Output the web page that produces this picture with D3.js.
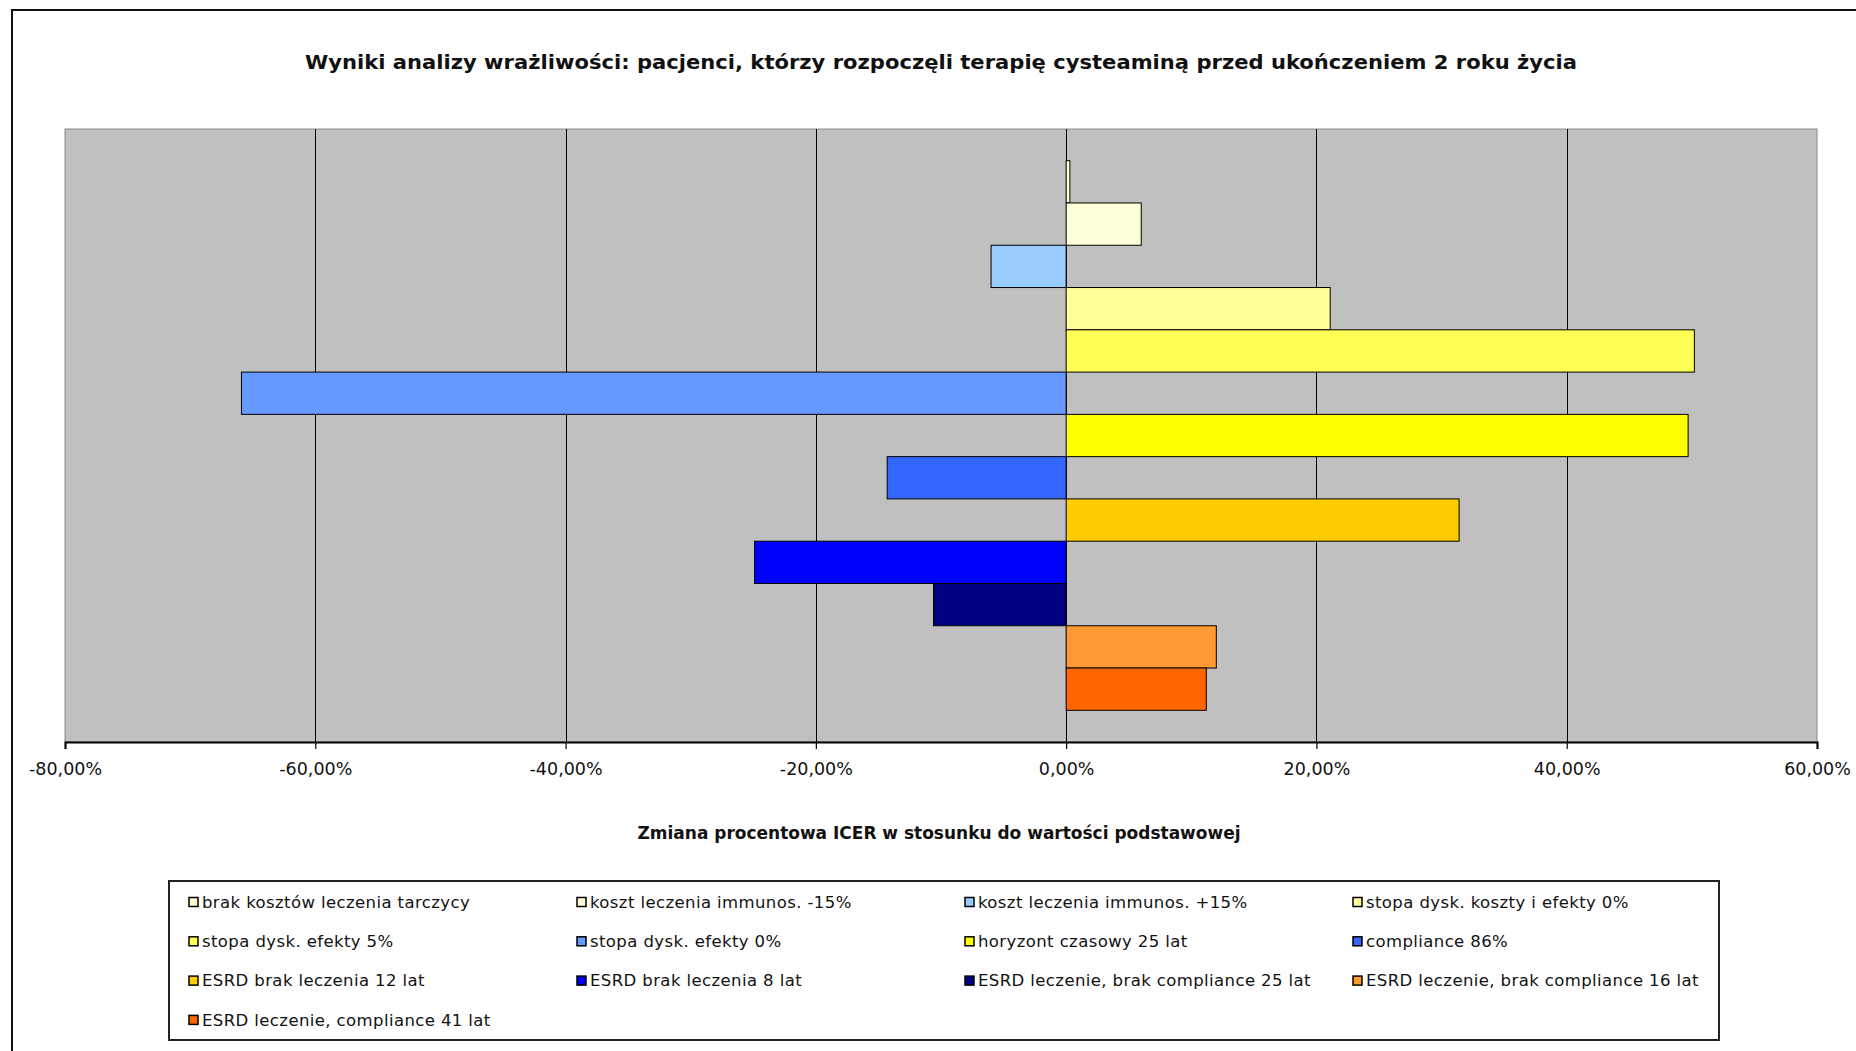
<!DOCTYPE html>
<html>
<head>
<meta charset="utf-8">
<script src="https://cdn.jsdelivr.net/npm/d3@7"></script>
<style>
  html, body { margin: 0; padding: 0; background: #ffffff; }
  svg { display: block; }
  text { font-family: "DejaVu Sans", sans-serif; fill: #111; }
</style>
</head>
<body>
<svg id="chart" width="1856" height="1051"></svg>
<script>
// ---- data ----
const titleText = "Wyniki analizy wrażliwości:  pacjenci, którzy rozpoczęli  terapię cysteaminą przed ukończeniem 2 roku życia";
const axisTitleText = "Zmiana procentowa ICER w stosunku do wartości podstawowej";
const categories = [
  "brak kosztów leczenia tarczycy",
  "koszt leczenia immunos. -15%",
  "koszt leczenia immunos. +15%",
  "stopa dysk. koszty i efekty 0%",
  "stopa dysk. efekty 5%",
  "stopa dysk. efekty 0%",
  "horyzont czasowy 25 lat",
  "compliance 86%",
  "ESRD brak leczenia 12 lat",
  "ESRD brak leczenia 8 lat",
  "ESRD leczenie, brak compliance 25 lat",
  "ESRD leczenie, brak compliance 16 lat",
  "ESRD leczenie, compliance 41 lat"
];
const values = [0.3, 6.0, -6.0, 21.1, 50.2, -65.9, 49.7, -14.3, 31.4, -24.9, -10.6, 12.0, 11.2];
const colors = ["#FFFFCC", "#FFFFD9", "#99CCFF", "#FFFF99", "#FFFF55", "#6699FF", "#FFFF00",
                "#3366FF", "#FFCC00", "#0000FF", "#000080", "#FF9933", "#FF6600"];
const tickValues = [-80, -60, -40, -20, 0, 20, 40, 60];

// ---- layout ----
const svg = d3.select("#chart");
const plot = { left: 65, right: 1817, top: 129, bottom: 742 };

// outer frame (right/bottom edges fall outside the picture)
svg.append("rect").attr("x", 12).attr("y", 10).attr("width", 1900).attr("height", 1100)
  .attr("fill", "#fff").attr("stroke", "#111").attr("stroke-width", 2);

const x = d3.scaleLinear().domain([-80, 60]).range([plot.left, plot.right]);
const y = d3.scaleBand().domain(categories).range([plot.top, plot.bottom])
  .paddingInner(0).paddingOuter(0.75);

// plot area
svg.append("rect").attr("x", plot.left).attr("y", plot.top)
  .attr("width", plot.right - plot.left).attr("height", plot.bottom - plot.top)
  .attr("fill", "#C0C0C0").attr("stroke", "#8a8a8a").attr("stroke-width", 1);

// gridlines
svg.append("g").selectAll("line")
  .data(tickValues.filter(t => t !== -80 && t !== 60))
  .join("line")
  .attr("x1", d => Math.round(x(d)) + 0.5).attr("x2", d => Math.round(x(d)) + 0.5)
  .attr("y1", plot.top).attr("y2", plot.bottom)
  .attr("stroke", "#000").attr("stroke-width", 1);

// bars
svg.append("g").selectAll("rect")
  .data(categories.map((c, i) => ({ c, v: values[i], col: colors[i] })))
  .join("rect")
  .attr("x", d => x(Math.min(0, d.v)))
  .attr("width", d => Math.abs(x(d.v) - x(0)))
  .attr("y", d => y(d.c))
  .attr("height", y.bandwidth())
  .attr("fill", d => d.col)
  .attr("stroke", "#000").attr("stroke-width", 1);

// x axis
const locale = d3.formatLocale({ decimal: ",", thousands: " ", grouping: [3], currency: ["", ""], minus: "-" });
const fmt = locale.format(".2f");
const axis = d3.axisBottom(x).tickValues(tickValues).tickSize(7).tickPadding(14)
  .tickFormat(d => fmt(d) + "%");
const gx = svg.append("g").attr("transform", `translate(0,${plot.bottom})`).call(axis);
gx.select(".domain").attr("stroke", "#000").attr("stroke-width", 2);
gx.selectAll(".tick line").attr("stroke", "#000").attr("stroke-width", 1.2);
gx.selectAll(".tick text").attr("font-family", "DejaVu Sans, sans-serif")
  .attr("font-size", 17.5).attr("fill", "#222");

// title
svg.append("text").attr("x", 941).attr("y", 69).attr("text-anchor", "middle")
  .attr("font-size", 20).attr("font-weight", "bold")
  .attr("textLength", 1272).attr("lengthAdjust", "spacingAndGlyphs")
  .text(titleText);

// axis title
svg.append("text").attr("x", 939).attr("y", 839).attr("text-anchor", "middle")
  .attr("font-size", 17).attr("font-weight", "bold")
  .attr("textLength", 603).attr("lengthAdjust", "spacingAndGlyphs")
  .text(axisTitleText);

// legend
const legend = svg.append("g");
legend.append("rect").attr("x", 169).attr("y", 881).attr("width", 1550).attr("height", 159)
  .attr("fill", "#fff").attr("stroke", "#222").attr("stroke-width", 2);
const items = legend.selectAll("g.item")
  .data(categories.map((c, i) => ({ c, col: colors[i], i })))
  .join("g").attr("class", "item")
  .attr("transform", d => `translate(${189 + (d.i % 4) * 388},${902 + Math.floor(d.i / 4) * 39.3})`);
items.append("rect").attr("x", 0).attr("y", -4.5).attr("width", 9).attr("height", 9)
  .attr("fill", d => d.col).attr("stroke", "#000").attr("stroke-width", 1.5);
items.append("text").attr("x", 13).attr("y", 0).attr("dy", "0.35em")
  .attr("font-size", 16.5).attr("letter-spacing", 0.4).attr("fill", "#222")
  .text(d => d.c);
</script>
</body>
</html>
